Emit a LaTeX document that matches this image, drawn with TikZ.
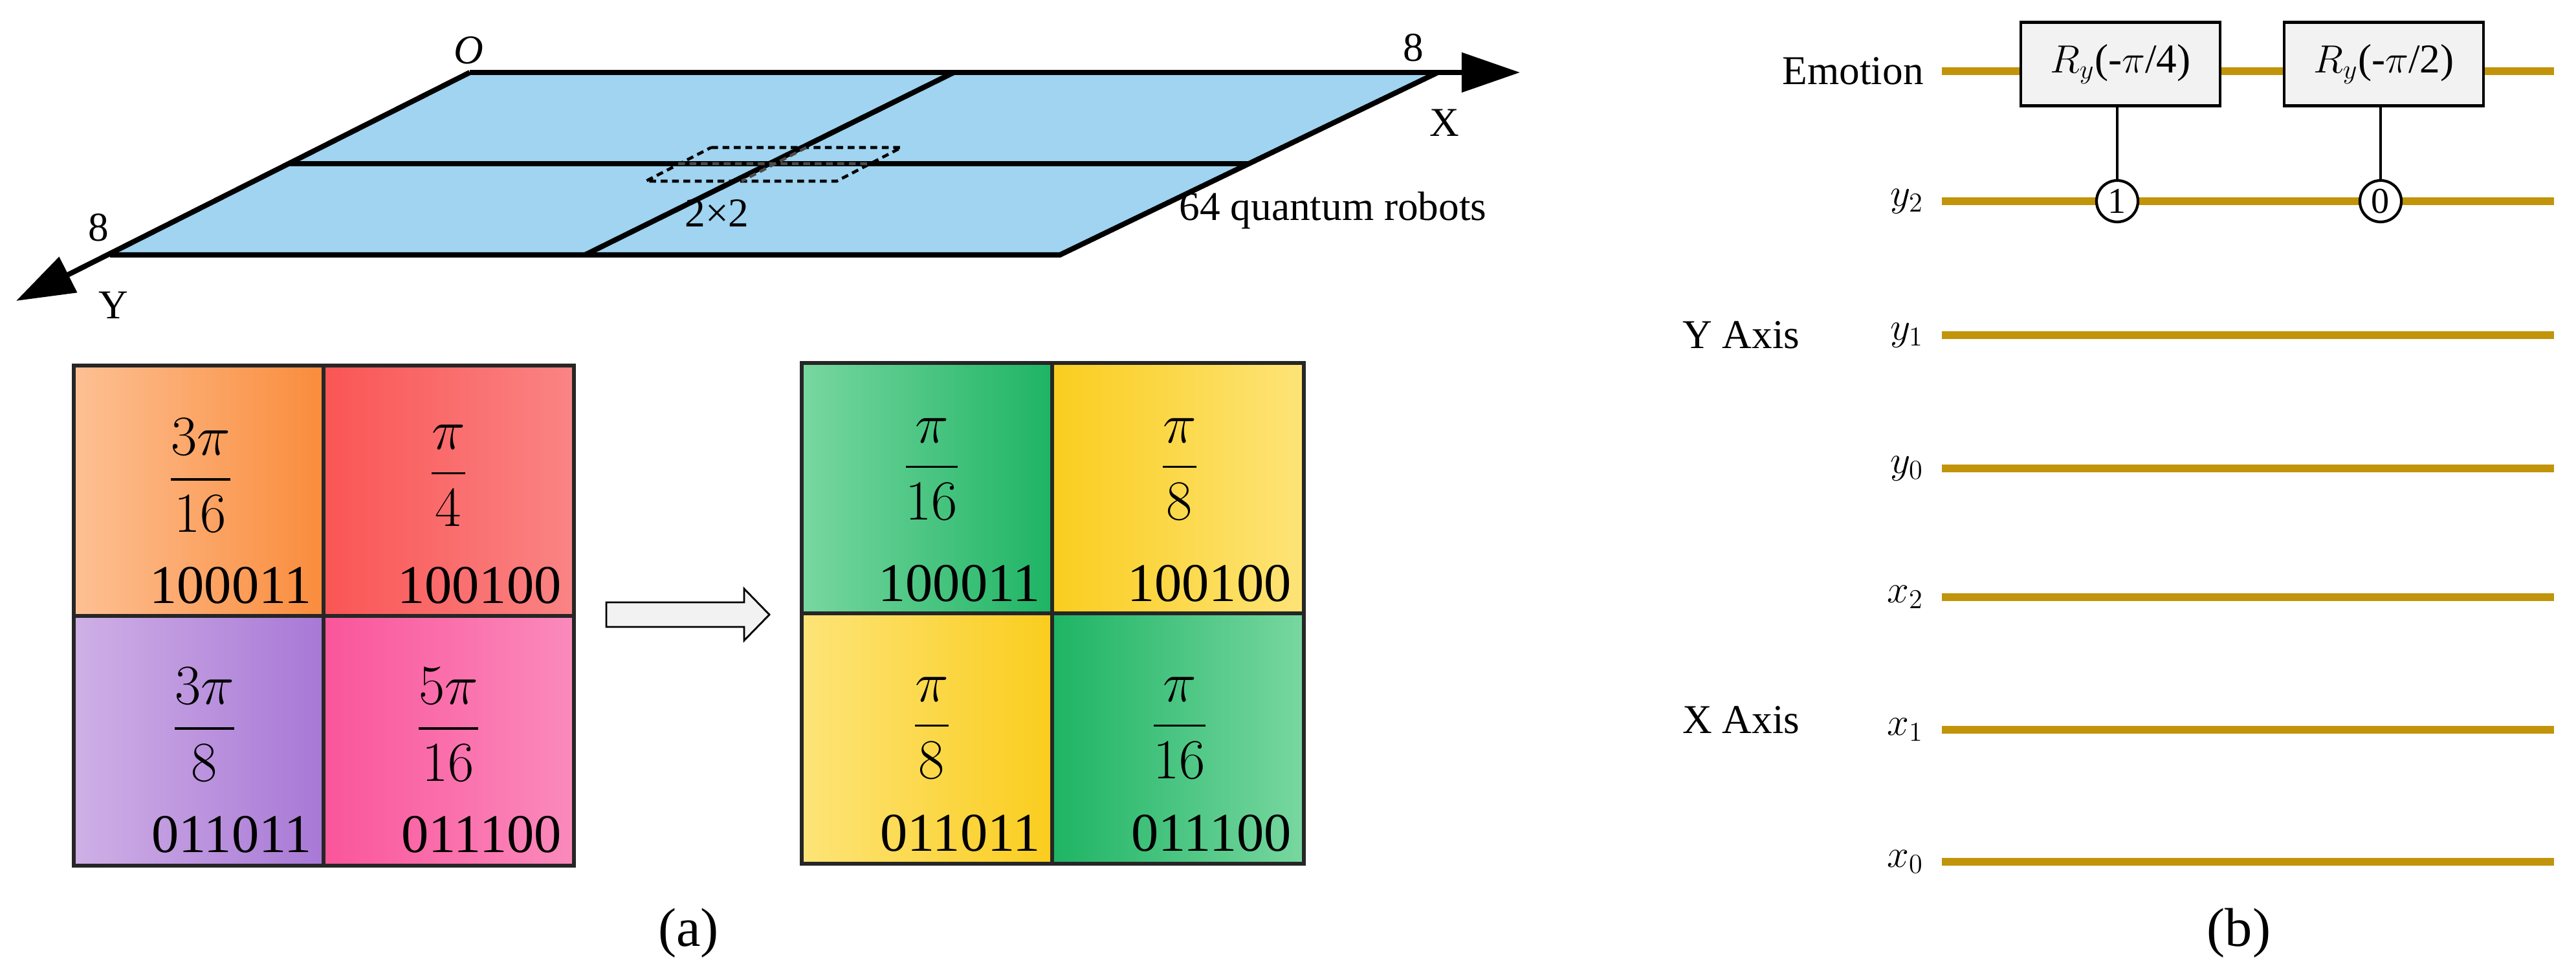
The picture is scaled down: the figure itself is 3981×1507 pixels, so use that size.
\documentclass[tikz,border=0pt]{standalone}
\usepackage{amsmath}
\usepackage{fontspec}
\setmainfont{Liberation Serif}
\renewcommand{\familydefault}{\rmdefault}
\usetikzlibrary{arrows.meta}
\definecolor{plane}{RGB}{160,212,240}
\definecolor{wire}{RGB}{193,148,10}
\definecolor{gate}{RGB}{242,242,242}
\begin{document}
\rmfamily
\begin{tikzpicture}[x=0.01cm,y=-0.01cm,
  every node/.style={font=\rmfamily},
  pl/.style={line width=2.3pt},
  cellb/.style={draw=black!85,line width=1.5pt},
  frac/.style={font=\rmfamily\fontsize{25}{30}\selectfont},
  bin/.style={font=\rmfamily\fontsize{24}{28}\selectfont,anchor=east},
  lbl/.style={font=\rmfamily\fontsize{18}{22}\selectfont},
  w/.style={wire,line width=3.4pt},
  g/.style={draw,fill=gate,line width=1.2pt,minimum width=3.08cm,minimum height=1.29cm,font=\rmfamily\fontsize{18}{22}\selectfont},
  ctl/.style={draw,fill=white,circle,line width=1.2pt,minimum size=0.64cm,inner sep=0pt,font=\rmfamily\fontsize{16}{18}\selectfont}]
\useasboundingbox (0,0) rectangle (3981,1507);
% plane
\coordinate (O) at (726,112); \coordinate (TR) at (2222,112);
\coordinate (BL) at (170,394); \coordinate (BR) at (1638,394);
\coordinate (Xe) at (2349,112); \coordinate (Ye) at (25,465);
\fill[plane] (O) -- (TR) -- (BR) -- (BL) -- cycle;
\draw[pl,-{Triangle[length=0.9cm,width=0.6cm]}] (O) -- (Xe);
\draw[pl,-{Triangle[length=0.9cm,width=0.6cm]}] (O) -- (Ye);
\draw[pl] (TR) -- (BR) -- (BL);
\draw[pl] (448,253) -- (1930,253);
\draw[pl] (1474,112) -- (904,394);
\draw[line width=1.3pt,densely dashed] (1099,228) -- (1393,228) -- (1293,280) -- (998,280) -- cycle;
\draw[line width=1.3pt,densely dashed,white!30!black] (1048,253) -- (1343,253) (1246,228) -- (1146,280);
\node[font=\rmfamily\itshape\fontsize{18}{22}\selectfont] (lo) at (724,78) {O};
\node[lbl] (l8a) at (2184,74) {8};
\node[lbl] (lx) at (2232,190) {X};
\node[lbl] (l8b) at (152,352) {8};
\node[lbl] (ly) at (175,472) {Y};
\node[lbl] (l22) at (1108,330) {2×2};
\node[lbl] (l64) at (2060,325) {64 quantum robots};
% left grid
\shade[left color={rgb,255:red,253;green,192;blue,148},right color={rgb,255:red,250;green,140;blue,60}] (114,565) rectangle (500,952);
\shade[left color={rgb,255:red,250;green,85;blue,85},right color={rgb,255:red,250;green,132;blue,132}] (500,565) rectangle (887,952);
\shade[left color={rgb,255:red,207;green,176;blue,230},right color={rgb,255:red,168;green,120;blue,214}] (114,952) rectangle (500,1338);
\shade[left color={rgb,255:red,250;green,85;blue,155},right color={rgb,255:red,250;green,138;blue,188}] (500,952) rectangle (887,1338);
\draw[cellb] (114,565) rectangle (887,1338) (500,565) -- (500,1338) (114,952) -- (887,952);
\node[frac] (a1) at (310,735) {$\dfrac{3\pi}{16}$};
\node[frac] (a2) at (693,735) {$\dfrac{\pi}{4}$};
\node[frac] (a3) at (316,1120) {$\dfrac{3\pi}{8}$};
\node[frac] (a4) at (693,1120) {$\dfrac{5\pi}{16}$};
\node[bin] (b1) at (494,905) {100011};
\node[bin] (b2) at (880,905) {100100};
\node[bin] (b3) at (494,1290) {011011};
\node[bin] (b4) at (880,1290) {011100};
% arrow
\draw[fill=gate,line width=0.8pt] (937,931) -- (1150,931) -- (1150,910) -- (1189,950) -- (1150,990) -- (1150,969) -- (937,969) -- cycle;
% right grid
\shade[left color={rgb,255:red,120;green,215;blue,160},right color={rgb,255:red,30;green,180;blue,100}] (1239,561) rectangle (1626,948);
\shade[left color={rgb,255:red,250;green,205;blue,30},right color={rgb,255:red,253;green,228;blue,120}] (1626,561) rectangle (2015,948);
\shade[left color={rgb,255:red,253;green,228;blue,120},right color={rgb,255:red,250;green,205;blue,30}] (1239,948) rectangle (1626,1335);
\shade[left color={rgb,255:red,30;green,180;blue,100},right color={rgb,255:red,120;green,215;blue,160}] (1626,948) rectangle (2015,1335);
\draw[cellb] (1239,561) rectangle (2015,1335) (1626,561) -- (1626,1335) (1239,948) -- (2015,948);
\node[frac] (c1) at (1440,725) {$\dfrac{\pi}{16}$};
\node[frac] (c2) at (1823,725) {$\dfrac{\pi}{8}$};
\node[frac] (c3) at (1440,1125) {$\dfrac{\pi}{8}$};
\node[frac] (c4) at (1823,1125) {$\dfrac{\pi}{16}$};
\node[bin] (d1) at (1620,902) {100011};
\node[bin] (d2) at (2008,902) {100100};
\node[bin] (d3) at (1620,1288) {011011};
\node[bin] (d4) at (2008,1288) {011100};
\node[font=\rmfamily\fontsize{24}{28}\selectfont] (la) at (1064,1442) {(a)};
% circuit
\foreach \n/\y/\t in {e/110/Emotion,y2/311/$y_2$,y1/518/$y_1$,y0/724/$y_0$,x2/923/$x_2$,x1/1128/$x_1$,x0/1332/$x_0$}{
  \node[lbl,anchor=east] (w\n) at (2985,\y) {\t};
  \coordinate (s\n) at (3001,\y); \coordinate (t\n) at (3947,\y);
}
\draw[w] (se) -- (te);
\draw[w] (sy2) -- (ty2);
\draw[w] (sy1) -- (ty1);
\draw[w] (sy0) -- (ty0);
\draw[w] (sx2) -- (tx2);
\draw[w] (sx1) -- (tx1);
\draw[w] (sx0) -- (tx0);
\node[g] (g1) at (3277,99) {$R_y$(-$\pi$/4)};
\node[g] (g2) at (3684,99) {$R_y$(-$\pi$/2)};
\node[ctl] (k1) at (3272,311) {1};
\node[ctl] (k2) at (3679,311) {0};
\draw[line width=1.2pt] (k1) -- (k1 |- g1.south);
\draw[line width=1.2pt] (k2) -- (k2 |- g2.south);
\node[lbl] (ya) at (2691,518) {Y Axis};
\node[lbl] (xa) at (2691,1113) {X Axis};
\node[font=\rmfamily\fontsize{24}{28}\selectfont] (lb) at (3460,1442) {(b)};
\end{tikzpicture}
\end{document}
